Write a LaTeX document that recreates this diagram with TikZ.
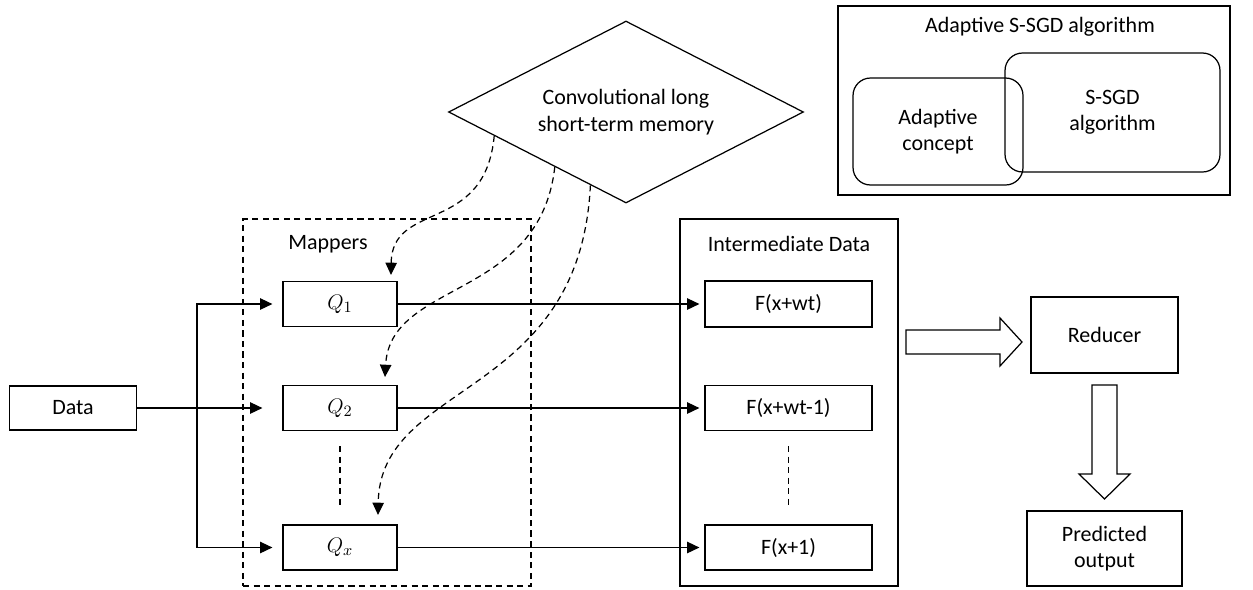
\documentclass[tikz,border=0pt]{standalone}
\usepackage{fontspec}
\setmainfont{Carlito}
\usetikzlibrary{arrows.meta,shapes.geometric,calc}

\begin{document}
\begin{tikzpicture}
  [x=0.02cm,y=-0.02cm,line width=0.7pt,font=\fontsize{12.5}{15}\selectfont,
   >={Triangle[length=7pt,width=6.5pt]}]

  \tikzstyle{box}      = [draw,inner sep=0pt,align=center]
  \tikzstyle{soft}     = [draw,rounded corners=0.35cm,inner sep=0pt,align=center]
  \tikzstyle{dashline} = [dash pattern=on 3.5pt off 2.5pt]

  \useasboundingbox (0,0) rectangle (1253,589);

  % frames
  \node[box,dashline,minimum width=5.76cm,minimum height=7.34cm] (mappers) at (387,402.5) {};
  \node[box,minimum width=4.36cm,minimum height=7.34cm]          (inter)   at (789,402.5) {};
  \node (maplbl)   at (328,244) {Mappers};
  \node (interlbl) at (789,244) {Intermediate Data};

  % top right
  \node[box,minimum width=7.84cm,minimum height=3.78cm] (algo) at (1034,100.5) {};
  \node (algolbl) at (1040,27) {Adaptive S-SGD algorithm};
  \node[soft,minimum width=3.4cm,minimum height=2.14cm] (adapt) at (938,131.5) {Adaptive\\concept};
  \node[soft,minimum width=4.3cm,minimum height=2.38cm] (ssgd)  at (1112.5,112.5) {S-SGD\\algorithm};

  % nodes
  \node[box,minimum width=2.54cm,minimum height=0.88cm] (data) at (73,408) {Data};
  \node[box,minimum width=2.28cm,minimum height=0.9cm]  (q1) at (340,304) {$Q_{1}$};
  \node[box,minimum width=2.28cm,minimum height=0.9cm]  (q2) at (340,408) {$Q_{2}$};
  \node[box,minimum width=2.28cm,minimum height=0.9cm]  (qx) at (340,547.5) {$Q_{x}$};
  \node[box,minimum width=3.34cm,minimum height=0.92cm] (f1) at (788.5,304) {F(x+wt)};
  \node[box,minimum width=3.34cm,minimum height=0.9cm]  (f2) at (788.5,408) {F(x+wt-1)};
  \node[box,minimum width=3.34cm,minimum height=0.9cm]  (f3) at (788.5,547.5) {F(x+1)};
  \node[box,minimum width=2.94cm,minimum height=1.52cm] (reducer) at (1104.5,335) {Reducer};
  \node[box,minimum width=3.1cm,minimum height=1.5cm]   (output)  at (1104.5,548.5) {Predicted\\output};
  \node[draw,diamond,aspect=2,inner sep=0pt,align=center,
        minimum width=7.1cm,minimum height=3.64cm] (conv) at (626,112)
        {Convolutional long\\short-term memory};

  \coordinate (fork) at (197,408);
  \coordinate (t1) at (391,275);
  \coordinate (t2) at (385,377);
  \coordinate (t3) at (378,515);

  % arrows
  \draw[->,shorten >=0.4cm] (data.east) -- (q2.west);
  \draw[->,shorten >=0.2cm] (fork) |- (q1.west);
  \draw[->,shorten >=0.2cm] (fork) |- (qx.west);
  \draw[->,shorten >=0.1cm] (q1.east) -- (f1.west);
  \draw[->,shorten >=0.1cm] (q2.east) -- (f2.west);
  \draw[->,shorten >=0.1cm] (qx.east) -- (f3.west);

  \draw[dashline,shorten <=0.3cm,shorten >=0.34cm] (q2.south) -- (qx.north);
  \draw[dashline,shorten <=0.3cm,shorten >=0.34cm] (f2.south) -- (f3.north);

  \draw[->,dashline] ($(conv.west)!0.26!(conv.south)$) .. controls (485,235) and (392,200) .. (t1);
  \draw[->,dashline] ($(conv.west)!0.6!(conv.south)$)  .. controls (540,300) and (390,280) .. (t2);
  \draw[->,dashline] ($(conv.west)!0.8!(conv.south)$)  .. controls (580,400) and (380,380) .. (t3);

  % hollow arrows
  \draw (906,330) -- (1000,330) -- (1000,318) -- (1022,342)
        -- (1000,366) -- (1000,354) -- (906,354) -- cycle;
  \draw (1092,385) -- (1117,385) -- (1117,474) -- (1130,474)
        -- (1104.5,499) -- (1079,474) -- (1092,474) -- cycle;
\end{tikzpicture}
\end{document}
